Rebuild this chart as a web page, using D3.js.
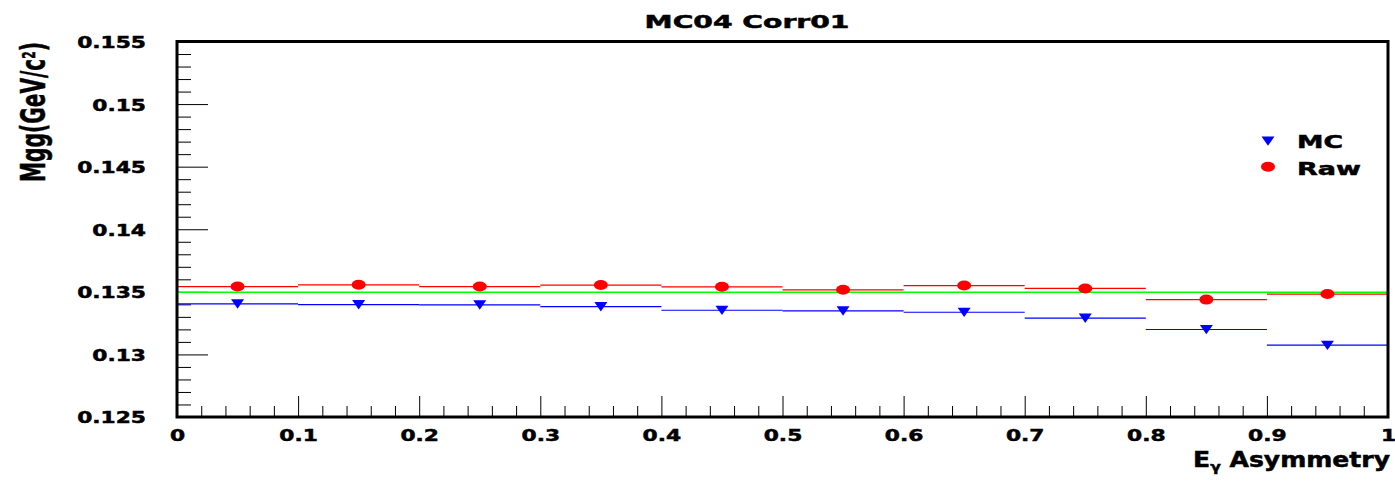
<!DOCTYPE html>
<html>
<head>
<meta charset="utf-8">
<script src="https://cdn.jsdelivr.net/npm/d3@7"></script>
<style>
  body { margin: 0; background: #fff; }
  svg { display: block; }
  text { font-family: "DejaVu Sans", sans-serif; font-weight: bold; fill: #000; stroke: #000; stroke-width: 0.5px; }
</style>
</head>
<body>
<svg width="1395" height="485"></svg>
<script>
// bin centres of the asymmetry histogram and the fitted pi0 mass per bin
const asym = [0.05, 0.15, 0.25, 0.35, 0.45, 0.55, 0.65, 0.75, 0.85, 0.95];
const binHalf = 0.05;
const mcMass = [0.13404, 0.13398, 0.13396, 0.13382, 0.13353, 0.13348, 0.13337, 0.13290, 0.13199, 0.13074];
const rawMass = [0.13542, 0.13556, 0.13542, 0.13554, 0.13540, 0.13516, 0.13550, 0.13527, 0.13438, 0.13482];
const refMass = 0.13497;
const xTicks = [0, 0.1, 0.2, 0.3, 0.4, 0.5, 0.6, 0.7, 0.8, 0.9, 1];
const yTicks = [0.125, 0.13, 0.135, 0.14, 0.145, 0.15, 0.155];

const svg = d3.select("svg");
const pLeft = 177, pRight = 1388, pTop = 41.5, pBottom = 417;

const x = d3.scaleLinear().domain([0, 1]).range([pLeft, pRight]);
const y = d3.scaleLinear().domain([0.125, 0.155]).range([pBottom, pTop]);

// stretch a text horizontally so it fills a given width (ROOT fonts are wide)
function fitText(parent, tx, ty, str, size, width, anchor, rot) {
  const g = parent.append("g")
    .attr("transform", `translate(${tx},${ty})` + (rot ? ` rotate(${rot})` : ""));
  const inner = g.append("g");
  const t = inner.append("text")
    .attr("text-anchor", anchor)
    .style("font-size", size + "px")
    .text(str);
  const w = t.node().getComputedTextLength();
  inner.attr("transform", `scale(${width / w},1)`);
  return t;
}
function refit(t, width) {
  const w = t.node().getComputedTextLength();
  d3.select(t.node().parentNode).attr("transform", `scale(${width / w},1)`);
}

// minor ticks
const xMinor = d3.range(0, 1.0001, 0.02).filter(v => Math.abs(v * 10 - Math.round(v * 10)) > 1e-6);
const yMinor = d3.range(0.125, 0.1551, 0.001).filter(v => Math.abs(v * 200 - Math.round(v * 200)) > 1e-6);

svg.append("g")
  .attr("transform", `translate(0,${pBottom})`)
  .call(d3.axisBottom(x).tickValues(xMinor).tickSizeInner(-11).tickSizeOuter(0).tickFormat(""))
  .call(g => g.select(".domain").remove());
svg.append("g")
  .attr("transform", `translate(${pLeft},0)`)
  .call(d3.axisLeft(y).tickValues(yMinor).tickSizeInner(-14).tickSizeOuter(0).tickFormat(""))
  .call(g => g.select(".domain").remove());

const k = 1.32;
const xAxis = svg.append("g")
  .attr("transform", `translate(0,${pBottom})`)
  .call(d3.axisBottom(x).tickValues(xTicks).tickSizeInner(-21).tickSizeOuter(0).tickPadding(12)
    .tickFormat(d => d3.format("~g")(d)))
  .call(g => g.select(".domain").remove());
xAxis.selectAll("text")
  .style("font-size", "16.5px")
  .style("font-family", "DejaVu Sans")
  .attr("transform", `scale(${k},1)`);

const yAxis = svg.append("g")
  .attr("transform", `translate(${pLeft},0)`)
  .call(d3.axisLeft(y).tickValues(yTicks).tickSizeInner(-31).tickSizeOuter(0).tickPadding(31)
    .tickFormat(d => d3.format("~g")(d)))
  .call(g => g.select(".domain").remove());
yAxis.selectAll("text")
  .style("font-size", "16.5px")
  .style("font-family", "DejaVu Sans")
  .attr("x", -31 / k)
  .attr("dy", "0.36em")
  .attr("transform", `scale(${k},1)`);
svg.selectAll(".tick line").attr("stroke", "#000");

// fit line
svg.append("line")
  .attr("x1", x(0)).attr("x2", x(1))
  .attr("y1", y(refMass)).attr("y2", y(refMass))
  .attr("stroke", "#00ff00").attr("stroke-width", 1.6);

// bin width bars
function bars(vals, color) {
  svg.append("g").selectAll("line")
    .data(asym)
    .join("line")
    .attr("x1", d => x(d - binHalf))
    .attr("x2", d => x(d + binHalf))
    .attr("y1", (d, i) => y(vals[i]))
    .attr("y2", (d, i) => y(vals[i]))
    .attr("stroke", color)
    .attr("stroke-width", 1.2);
}
bars(rawMass, "#ff0000");
bars(mcMass, "#0000ff");

const tri = "M-6.5,-4.5L6.5,-4.5L0,4.8Z";

svg.append("g").selectAll("path")
  .data(asym)
  .join("path")
  .attr("transform", (d, i) => `translate(${x(d)},${y(mcMass[i])})`)
  .attr("d", tri)
  .attr("fill", "#0000ff");

svg.append("g").selectAll("ellipse")
  .data(asym)
  .join("ellipse")
  .attr("cx", d => x(d))
  .attr("cy", (d, i) => y(rawMass[i]))
  .attr("rx", 7).attr("ry", 5)
  .attr("fill", "#ff0000");

// frame
svg.append("rect")
  .attr("x", pLeft).attr("y", pTop)
  .attr("width", pRight - pLeft).attr("height", pBottom - pTop)
  .attr("fill", "none").attr("stroke", "#000").attr("stroke-width", 3);

// titles
fitText(svg, 747, 28, "MC04 Corr01", 18, 205, "middle");

const xt = fitText(svg, 1390, 467, "E", 21, 197, "end");
xt.append("tspan").attr("baseline-shift", "-25%").style("font-size", "13px").text("γ");
xt.append("tspan").text(" Asymmetry");
refit(xt, 197);

const yt = fitText(svg, 45, 112, "Mgg(GeV/c", 34, 140, "middle", -90);
yt.append("tspan").attr("baseline-shift", "super").style("font-size", "18px").text("2");
yt.append("tspan").text(")");
refit(yt, 140);

// legend
const legend = svg.append("g");
legend.append("path")
  .attr("transform", "translate(1268,141)")
  .attr("d", tri)
  .attr("fill", "#0000ff");
legend.append("ellipse")
  .attr("cx", 1268).attr("cy", 166.7)
  .attr("rx", 7).attr("ry", 5)
  .attr("fill", "#ff0000");
fitText(legend, 1297, 148, "MC", 18, 46, "start");
fitText(legend, 1297, 175, "Raw", 18, 64, "start");
</script>
</body>
</html>
